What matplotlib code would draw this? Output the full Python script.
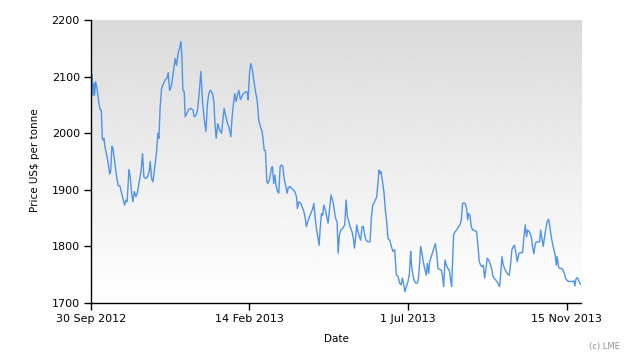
import numpy as np
import matplotlib
matplotlib.use("Agg")
import matplotlib.pyplot as plt
import matplotlib.dates as mdates

# LME price series
start_date = "2012-09-30"
end_offset = 423.5  # right edge of the axis, days after start

# days after 30 Sep 2012
days = [
    1.1, 1.7, 2.6, 3.1, 4.0, 5.2, 6.9, 8.0, 8.9, 9.8, 10.3, 11.2, 12.1, 13.8, 14.9,
    16.1, 17.0, 18.1, 19.0, 20.7, 22.4, 23.6, 25.0, 26.5, 27.9, 29.0, 30.2, 31.3,
    32.8, 33.9, 35.1, 36.2, 37.4, 38.8, 40.0, 41.4, 43.2, 44.6, 45.7, 47.2, 48.9,
    50.3, 51.2, 52.4, 53.5, 55.2, 56.7, 57.8, 58.7, 59.8, 61.0, 62.7, 64.4, 65.6,
    66.8, 67.9, 68.8,
    69.6, 71.4, 72.8, 73.9, 75.4, 76.8, 77.7, 78.6, 79.4, 80.6, 81.4, 82.9, 84.6,
    86.3, 88.1, 89.2, 90.9, 92.1, 93.5, 95.0, 96.4, 97.8, 99.3, 100.7, 101.9, 103.3,
    105.0, 106.2, 107.1, 108.2, 109.6, 111.1, 112.8, 114.0, 115.1, 116.3, 118.0,
    119.1, 120.9, 122.0, 123.2, 124.3, 125.5, 126.6, 127.8, 129.2, 130.4, 131.8,
    133.5, 135.0, 135.8, 137.0, 138.1,
    139.3, 140.7, 142.2, 143.6, 145.0, 146.5, 147.9, 148.8, 149.7, 150.8, 152.0,
    153.1, 154.5, 156.0, 156.8, 158.0, 158.9, 160.0, 161.2, 162.3, 163.5, 164.6,
    165.8, 166.9, 168.4, 169.5, 170.4, 171.8, 173.3, 174.7, 176.1, 177.6, 178.4,
    179.6, 181.3, 182.5, 183.6, 184.8, 186.2, 187.4, 188.8, 190.5, 191.7, 192.6,
    193.7, 194.8, 196.0, 197.2, 198.0, 199.2, 200.3, 201.2, 202.6, 203.8, 204.9,
    206.4, 207.5,
    209.5, 210.7, 211.8, 212.7, 213.6, 214.7, 215.9, 217.6, 219.3, 220.5, 221.6,
    222.8, 223.9, 225.6, 226.8, 227.7, 228.5, 229.7, 230.8, 232.0, 233.1, 234.3,
    235.4, 236.6, 237.7, 239.5, 241.2, 242.3, 243.5, 245.2, 247.0, 248.1, 249.0,
    249.8, 250.7, 251.8, 253.3, 254.4, 255.6, 256.7, 258.2, 259.6, 261.0, 262.5,
    263.9, 265.4, 266.8, 268.0, 269.1, 270.3, 271.4, 272.6, 274.0, 275.2, 276.3,
    276.9, 278.0, 279.2, 280.3, 282.1, 283.2, 284.4, 284.9, 286.1, 287.2, 288.4,
    289.8, 290.7, 291.9, 292.7, 294.1, 295.9, 297.6, 298.8, 299.9, 301.6, 302.8,
    303.9, 304.8, 306.0, 307.1, 308.5, 309.7, 310.8, 311.7, 312.6, 313.4, 314.6,
    316.0, 317.8, 318.9, 320.1, 321.2, 322.4, 323.5, 324.7, 325.5, 326.4, 327.5,
    328.7, 329.8, 331.6, 333.3, 334.5, 335.6, 336.8, 337.9, 339.1, 340.2, 341.4,
    342.5, 343.7, 345.4, 346.6,
    347.1, 348.3, 349.4, 350.6, 352.0, 353.2, 354.0, 355.2, 356.3, 358.1, 359.8,
    361.5, 362.7, 363.8, 365.0, 366.1, 367.3, 368.4, 369.9, 371.3, 373.0, 374.2,
    375.3, 376.5, 377.3, 378.8, 380.5, 381.6, 382.8, 384.0, 385.1, 386.3, 387.7,
    388.6, 389.7, 390.9, 392.0, 393.2, 394.3, 395.5, 396.6, 397.8, 398.9, 400.1,
    401.2, 402.1, 402.9, 404.1, 405.3, 407.0, 408.7, 409.9, 411.0, 412.8, 414.5,
    416.2, 417.4, 418.2, 419.1, 420.2, 421.3, 422.5, 423.1,
]

price = [
    2103, 2067, 2088, 2067, 2091, 2079, 2053, 2041, 2041, 1991, 1988, 1991, 1976,
    1959, 1947, 1928, 1932, 1977, 1973, 1947, 1920, 1907, 1907, 1894, 1882, 1873,
    1882, 1879, 1936, 1923, 1894, 1879, 1897, 1888, 1894, 1911, 1932, 1964, 1923,
    1920, 1923, 1932, 1950, 1920, 1914, 1941, 1967, 2000, 1991, 2047, 2079, 2088,
    2095, 2097, 2107, 2076, 2079,
    2085, 2112, 2132, 2120, 2141, 2153, 2162, 2135, 2076, 2073, 2029, 2035, 2042,
    2044, 2041, 2029, 2032, 2041, 2070, 2109, 2056, 2026, 2003, 2053, 2070, 2076,
    2070, 2056, 2020, 1991, 2017, 2006, 2000, 2023, 2044, 2032, 2017, 2012, 1994,
    2029, 2053, 2070, 2056, 2067, 2076, 2059, 2065, 2070, 2073, 2073, 2059, 2106,
    2123,
    2115, 2094, 2073, 2059, 2023, 2011, 2003, 1988, 1970, 1969, 1914, 1911, 1920,
    1938, 1941, 1911, 1926, 1908, 1897, 1894, 1941, 1944, 1941, 1920, 1906, 1894,
    1903, 1906, 1903, 1900, 1897, 1888, 1867, 1879, 1876, 1870, 1864, 1855, 1835,
    1844, 1852, 1861, 1867, 1876, 1852, 1832, 1817, 1802, 1829, 1858, 1855, 1873,
    1864, 1852, 1841, 1870, 1891,
    1876, 1858, 1847, 1844, 1788, 1820, 1829, 1832, 1838, 1882, 1853, 1844, 1835,
    1826, 1814, 1797, 1811, 1838, 1826, 1817, 1811, 1835, 1835, 1820, 1811, 1808,
    1808, 1850, 1873, 1879, 1888, 1914, 1935, 1929, 1932, 1917, 1894, 1864, 1844,
    1814, 1811, 1800, 1791, 1794, 1750, 1747, 1735, 1732, 1744, 1732, 1720, 1729,
    1738, 1752, 1791,
    1770, 1752, 1741, 1736, 1735, 1746, 1782, 1800, 1788, 1773, 1761, 1749, 1770,
    1752, 1773, 1782, 1794, 1805, 1788, 1761, 1759, 1758, 1746, 1729, 1776, 1767,
    1761, 1758, 1741, 1729, 1776, 1820, 1826, 1829, 1835, 1838, 1847, 1876, 1877,
    1875, 1867, 1847, 1858, 1855, 1835, 1829, 1828, 1826, 1800, 1773, 1767, 1764,
    1767, 1744, 1761, 1779, 1776, 1767, 1758,
    1749, 1744, 1742, 1738, 1734, 1729, 1749, 1782, 1767, 1758, 1752, 1749, 1770,
    1794, 1800, 1802, 1788, 1773, 1788, 1789, 1789, 1817, 1838, 1817, 1829, 1826,
    1817, 1800, 1787, 1805, 1808, 1808, 1808, 1829, 1814, 1800, 1817, 1832, 1844,
    1848, 1835, 1817, 1805, 1794, 1785, 1767, 1782, 1764, 1761, 1761, 1755, 1746,
    1741, 1738, 1738, 1738, 1739, 1730, 1742, 1745, 1741, 1735, 1733,
]

tick_dates = ["2012-09-30", "2013-02-14", "2013-07-01", "2013-11-15"]
tick_labels = ["30 Sep 2012", "14 Feb 2013", "1 Jul 2013", "15 Nov 2013"]
y_ticks = [1700, 1800, 1900, 2000, 2100, 2200]

#%%

t0 = mdates.datestr2num(start_date)
x = t0 + np.array(days)

fig = plt.figure(figsize=(6.3, 3.6), dpi=100)
ax = fig.add_axes([0.1444, 0.1583, 0.7778, 0.7861])

# grey (top) to white (bottom) gradient behind the plot
grad = np.linspace(0.855, 1.0, 256).reshape(-1, 1)
ax.imshow(grad, cmap="gray", vmin=0, vmax=1, aspect="auto", origin="upper",
          extent=[0, 1, 0, 1], transform=ax.transAxes, zorder=0)

ax.plot(x, price, color="#4f93ec", lw=1.0, zorder=2)

ax.set_xlim(t0, t0 + end_offset)
ax.set_ylim(1700, 2200)
ax.set_yticks(y_ticks)
ax.set_xticks([mdates.datestr2num(d) for d in tick_dates])
ax.set_xticklabels(tick_labels)

for s in ["top", "right"]:
    ax.spines[s].set_visible(False)
for s in ["left", "bottom"]:
    ax.spines[s].set_linewidth(1.0)
    ax.spines[s].set_color("black")

ax.tick_params(axis="both", direction="out", length=5, width=1,
               labelsize=8, colors="black", pad=3)

fig.text(35 / 630, 1 - 160 / 360, "Price US$ per tonne", rotation=90,
         ha="center", va="center", fontsize=7.5)
fig.text(336 / 630, 1 - 339 / 360, "Date", ha="center", va="center",
         fontsize=7.5)
fig.text(604 / 630, 1 - 346 / 360, "(c) LME", ha="center", va="center",
         fontsize=6, color="#909090")

fig.savefig("out.png", dpi=100)
